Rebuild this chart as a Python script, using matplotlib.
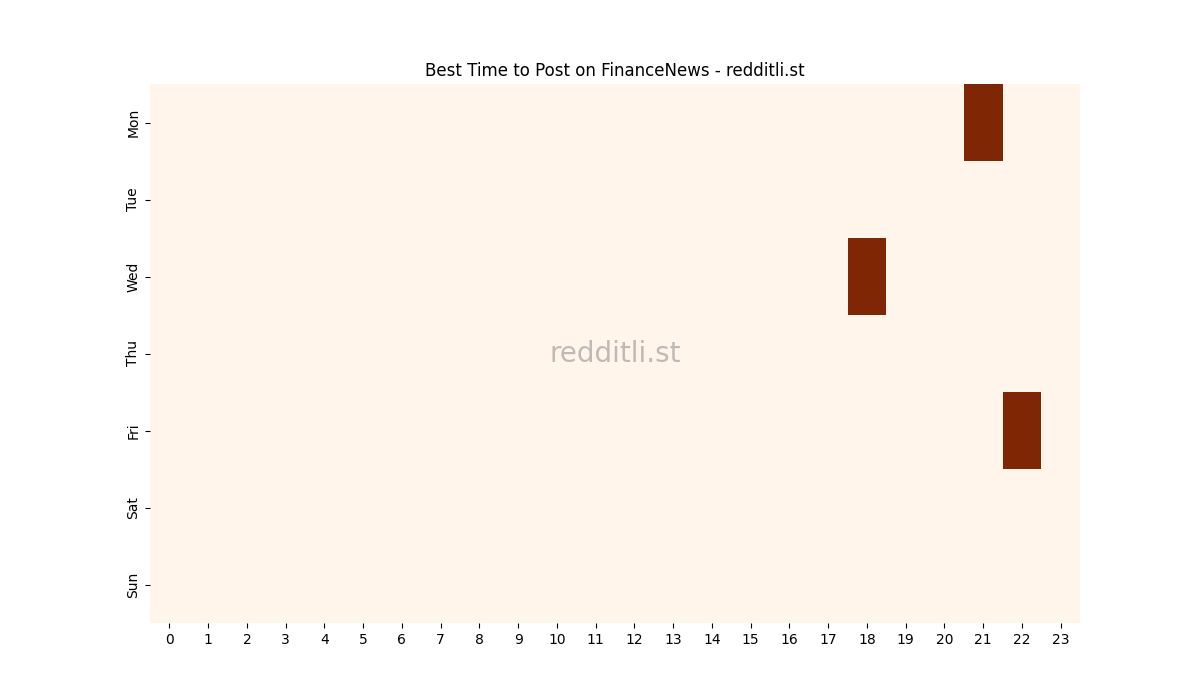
import matplotlib
matplotlib.use("Agg")
import matplotlib.pyplot as plt
import seaborn as sns
import numpy as np

days = ["Mon", "Tue", "Wed", "Thu", "Fri", "Sat", "Sun"]
hours = list(range(24))
# (day, hour, value) of active cells
active_days = ["Mon", "Wed", "Fri"]
active_hours = [21, 18, 22]
active_values = [1, 1, 1]

data = np.zeros((len(days), len(hours)))
for d, h, v in zip(active_days, active_hours, active_values):
    data[days.index(d), hours.index(h)] = v

fig, ax = plt.subplots(figsize=(12, 7), dpi=100)
sns.heatmap(data, cmap="Oranges", cbar=False, ax=ax,
            xticklabels=hours, yticklabels=days)
ax.set_title("Best Time to Post on FinanceNews - redditli.st")
ax.text(0.5, 0.5, "redditli.st", transform=ax.transAxes, ha="center", va="center",
        fontsize=20, color="gray", alpha=0.5)
plt.setp(ax.get_xticklabels(), rotation=0)
plt.setp(ax.get_yticklabels(), rotation=90, va="center")
fig.savefig("out.png")
